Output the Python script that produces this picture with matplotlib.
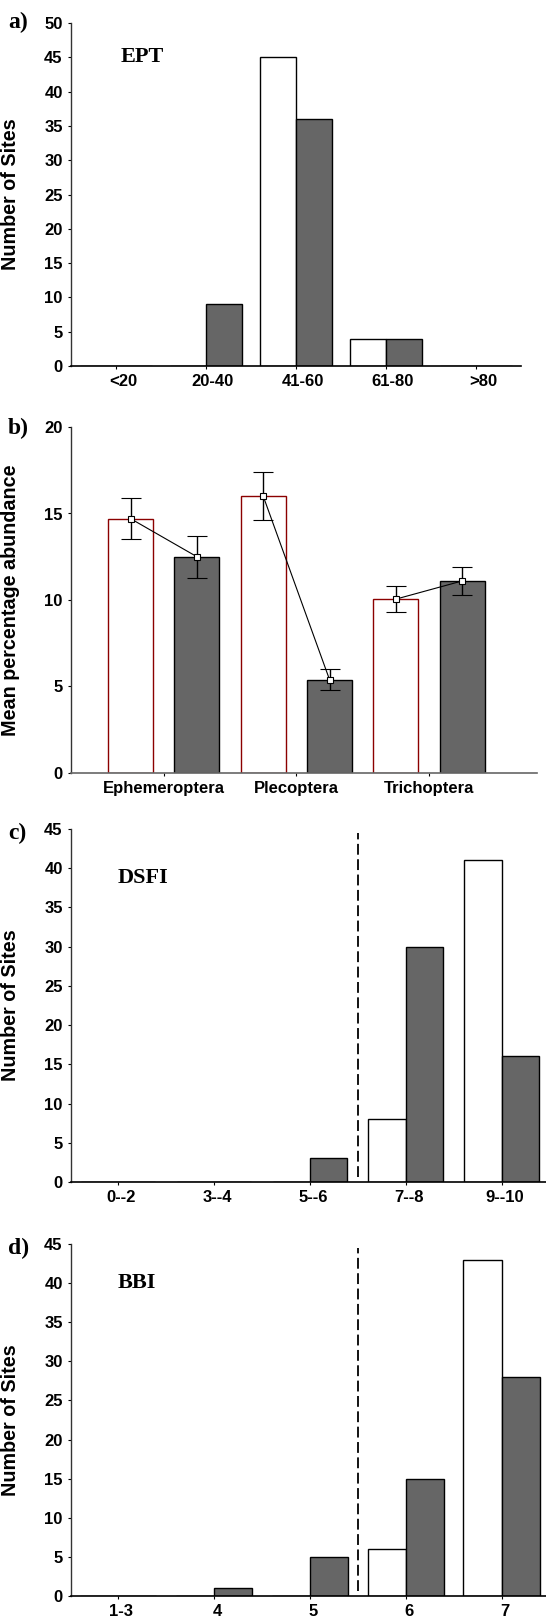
import numpy as np
import matplotlib
matplotlib.use('Agg')
import matplotlib.pyplot as plt
import matplotlib.transforms as mtransforms

plt.rcParams['font.family'] = ['Liberation Sans', 'DejaVu Sans']
plt.rcParams['font.weight'] = 'bold'

# panel a: EPT
ept_cats = ['<20', '20-40', '41-60', '61-80', '>80']
ept_white = [0, 0, 45, 4, 0]
ept_dark = [0, 9, 36, 4, 0]

# panel b: mean percentage abundance
taxa = ['Ephemeroptera', 'Plecoptera', 'Trichoptera']
abund_white = [14.7, 16.0, 10.05]
abund_white_err = [1.2, 1.4, 0.77]
abund_dark = [12.5, 5.4, 11.1]
abund_dark_err = [1.2, 0.6, 0.83]

# panel c: DSFI
dsfi_cats = ['0--2', '3--4', '5--6', '7--8', '9--10']
dsfi_white = [0, 0, 0, 8, 41]
dsfi_dark = [0, 0, 3, 30, 16]

# panel d: BBI
bbi_cats = ['1-3', '4', '5', '6', '7']
bbi_white = [0, 0, 0, 6, 43]
bbi_dark = [0, 1, 5, 15, 28]

DARK = '#666666'
W, H = 546, 1619
fig = plt.figure(figsize=(W / 100, H / 100), dpi=100)


def box(left, right, top, bottom):
    return [left / W, 1 - bottom / H, (right - left) / W, (bottom - top) / H]


def style(ax, bottom_color='black', xshift=0):
    for s in ['top', 'right']:
        ax.spines[s].set_visible(False)
    ax.spines['left'].set_color('#333333')
    ax.spines['bottom'].set_color(bottom_color)
    ax.spines['left'].set_linewidth(1.0)
    ax.spines['bottom'].set_linewidth(1.2)
    ax.tick_params(direction='out', length=2, width=0.8, labelsize=12, pad=4)
    for lab in ax.get_xticklabels() + ax.get_yticklabels():
        lab.set_fontweight('bold')
    # tick labels sit a few pixels right of the bar pairs
    off = mtransforms.ScaledTranslation(xshift / 100, 0, fig.dpi_scale_trans)
    for lab in ax.get_xticklabels():
        lab.set_transform(lab.get_transform() + off)
    tr = mtransforms.blended_transform_factory(fig.transFigure, ax.transAxes)
    ax.yaxis.set_label_coords(20 / W, 0.5, transform=tr)


def hist_panel(ax, cats, white, dark, ymax, width=0.4):
    x = np.arange(len(cats))
    ax.bar(x - width / 2, white, width=width, color='white', edgecolor='black', linewidth=1.0)
    ax.bar(x + width / 2, dark, width=width, color=DARK, edgecolor='black', linewidth=1.0)
    ax.set_xticks(x)
    ax.set_xticklabels(cats)
    ax.set_ylim(0, ymax)
    ax.set_yticks(np.arange(0, ymax + 1, 5))
    ax.set_ylabel('Number of Sites', fontsize=14.2, fontweight='bold')


# a)
ax1 = fig.add_axes(box(71, 521, 23, 366))
hist_panel(ax1, ept_cats, ept_white, ept_dark, 50)
ax1.set_xlim(-0.5, 4.5)
style(ax1, xshift=7)
ax1.text(0.05, 45, 'EPT', family='Liberation Serif', fontweight='bold', fontsize=16, va='center')

# b)
ax2 = fig.add_axes(box(71, 537, 427, 773))
xb = np.arange(len(taxa))
bw = 0.34
ax2.bar(xb - 0.25, abund_white, width=bw, color='white', edgecolor='#8B0000', linewidth=1.0)
ax2.bar(xb + 0.25, abund_dark, width=bw, color=DARK, edgecolor='black', linewidth=1.0)
for i in range(len(taxa)):
    ax2.errorbar([xb[i] - 0.25, xb[i] + 0.25], [abund_white[i], abund_dark[i]],
                 yerr=[abund_white_err[i], abund_dark_err[i]], color='black', lw=0.8,
                 elinewidth=1.0, capsize=7, capthick=1.0, marker='s', markersize=5,
                 markerfacecolor='white', markeredgecolor='black', markeredgewidth=0.8)
ax2.set_xticks(xb)
ax2.set_xticklabels(taxa)
ax2.set_xlim(-0.7, 2.815)
ax2.set_ylim(0, 20)
ax2.set_yticks([0, 5, 10, 15, 20])
ax2.set_ylabel('Mean percentage abundance', fontsize=14.2, fontweight='bold')
style(ax2, bottom_color='#666666')

# c)
ax3 = fig.add_axes(box(71, 546, 829, 1182))
hist_panel(ax3, dsfi_cats, dsfi_white, dsfi_dark, 45, width=0.39)
ax3.set_xlim(-0.49, 4.46)
ax3.vlines(2.5, 0.6, 44.5, colors='black', linestyles=(0, (6, 2.5)), lw=1.3)
style(ax3, xshift=3)
ax3.text(0.0, 38.75, 'DSFI', family='Liberation Serif', fontweight='bold', fontsize=16, va='center')

# d)
ax4 = fig.add_axes(box(71, 546, 1244, 1596))
hist_panel(ax4, bbi_cats, bbi_white, bbi_dark, 45, width=0.4)
ax4.set_xlim(-0.49, 4.46)
ax4.vlines(2.5, 0.6, 44.5, colors='black', linestyles=(0, (6, 2.5)), lw=1.3)
style(ax4, xshift=3)
ax4.text(0.0, 40, 'BBI', family='Liberation Serif', fontweight='bold', fontsize=16, va='center')

# panel letters
for lab, ypx in [('a)', 22), ('b)', 428), ('c)', 833), ('d)', 1248)]:
    fig.text(8 / W, 1 - ypx / H, lab, family='Liberation Serif', fontweight='bold',
             fontsize=17, va='center', ha='left')

fig.savefig('out.png', dpi=100)
